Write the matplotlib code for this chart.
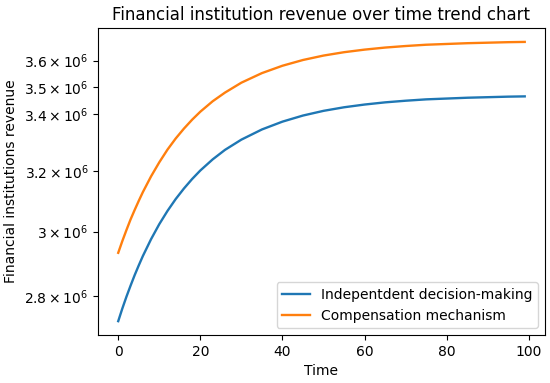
"""Financial institution revenue over time, two mechanisms on a log y axis."""

import matplotlib

matplotlib.use("Agg")
import matplotlib.pyplot as plt
from matplotlib.ticker import FixedLocator, FixedFormatter, NullLocator

time = [0, 1, 2, 3, 4, 5, 6, 8, 10, 12, 14, 16, 18, 20, 23, 26, 30,
        35, 40, 45, 50, 55, 60, 65, 70, 75, 80, 85, 90, 95, 99]

# Revenue in units of 1e6
independent = [2.727, 2.764, 2.799, 2.832, 2.864, 2.894, 2.923, 2.976,
               3.024, 3.067, 3.106, 3.141, 3.173, 3.202, 3.240, 3.273,
               3.309, 3.345, 3.373, 3.395, 3.412, 3.425, 3.435, 3.443,
               3.449, 3.454, 3.457, 3.460, 3.462, 3.464, 3.465]
compensation = [2.933, 2.970, 3.005, 3.039, 3.070, 3.100, 3.129, 3.182,
                3.230, 3.274, 3.313, 3.348, 3.380, 3.409, 3.447, 3.479,
                3.516, 3.552, 3.580, 3.602, 3.619, 3.632, 3.642, 3.650,
                3.656, 3.661, 3.664, 3.667, 3.669, 3.671, 3.672]

ytick_values = [2.8, 3.0, 3.2, 3.4, 3.5, 3.6]
ytick_labels = [r"$\mathdefault{2.8\times10^{6}}$", r"$\mathdefault{3\times10^{6}}$",
                r"$\mathdefault{3.2\times10^{6}}$", r"$\mathdefault{3.4\times10^{6}}$",
                r"$\mathdefault{3.5\times10^{6}}$", r"$\mathdefault{3.6\times10^{6}}$"]

scale = 1e6

fig = plt.figure(figsize=(5.5, 3.83), dpi=100)
ax = fig.add_axes([0.178, 0.125, 0.813, 0.802])

ax.plot(time, [v * scale for v in independent], color="#1f77b4",
        linewidth=1.7, label="Indepentdent decision-making")
ax.plot(time, [v * scale for v in compensation], color="#ff7f0e",
        linewidth=1.7, label="Compensation mechanism")

ax.set_yscale("log")
ax.yaxis.set_major_locator(NullLocator())
ax.yaxis.set_minor_locator(FixedLocator([v * scale for v in ytick_values]))
ax.yaxis.set_minor_formatter(FixedFormatter(ytick_labels))
ax.tick_params(axis="y", which="minor", length=3.5, width=0.8)

ax.set_xticks([0, 20, 40, 60, 80, 100])
ax.set_xlabel("Time")
ax.set_ylabel("Financial institutions revenue")
ax.set_title("Financial institution revenue over time trend chart")
ax.legend(loc="lower right")

fig.savefig("out.png", dpi=100)
